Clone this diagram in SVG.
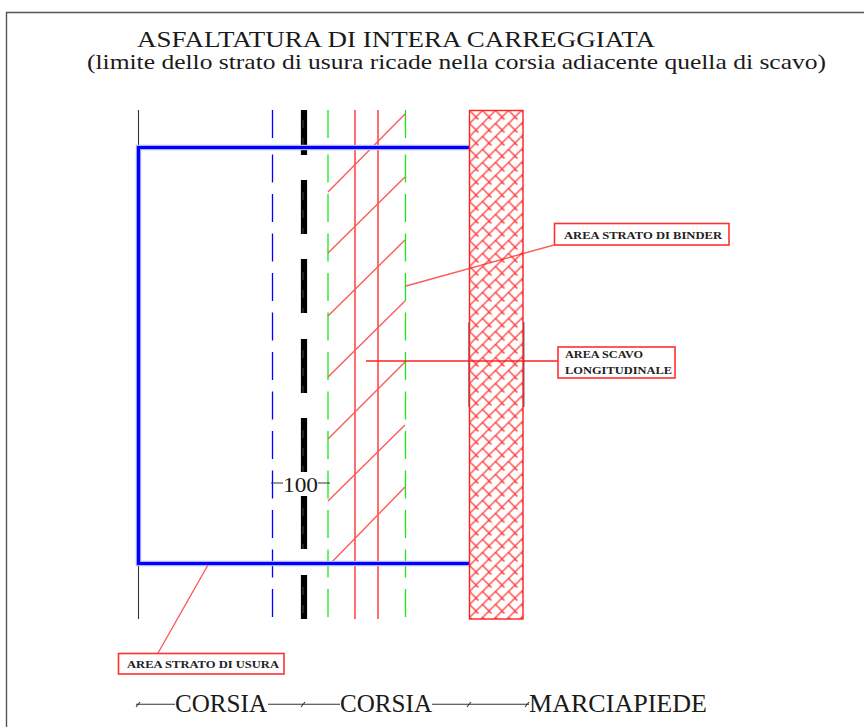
<svg xmlns="http://www.w3.org/2000/svg" width="864" height="727" viewBox="0 0 864 727">
<style>
text{font-family:"Liberation Serif","Times New Roman",serif;fill:#1a1a1a}
.t{font-size:23.5px}.s{font-size:22px}.b{font-size:25px}.n{font-size:21px}
.l{font-size:10px;font-weight:bold;fill:#222}
.v{fill:none;stroke-width:1.3}
.rl{stroke:#ff2020;stroke-width:1.3;fill:none}
.dg{stroke:#ff5a5a;stroke-width:1.4;fill:none}
.dd{stroke-dasharray:28 11.5}
.box{fill:#fff;stroke:#ff3030;stroke-width:1.6}
.k{stroke:#333;stroke-width:1.1;fill:none}
</style>
<defs>
<pattern id="h" width="13" height="13" patternUnits="userSpaceOnUse" x="469.5" y="110.5">
<path d="M-2 15L15-2M-2 2L15-15M-2 28L15 11M-1-1L9 9M12 -1L14 1M-1 12L1 14" stroke="#ff1c1c" stroke-width="1.2" fill="none"/>
</pattern>
</defs>
<rect width="864" height="727" fill="#fff"/>
<path id="frame" d="M864 12.5H6.5V727" fill="none" stroke="#555" stroke-width="1.4"/>
<g id="titles">
<text class="t" x="137" y="46.5" textLength="518" lengthAdjust="spacingAndGlyphs">ASFALTATURA DI INTERA CARREGGIATA</text>
<text class="s" x="87" y="69" textLength="739" lengthAdjust="spacingAndGlyphs">(limite dello strato di usura ricade nella corsia adiacente quella di scavo)</text>
</g>
<g id="connectors">
<path class="k" d="M138.5 110V147M138.5 563V619"/>
<path class="v dd" stroke="#0000ff" d="M272.5 110V141M272.5 154.5V619"/>
<path class="v dd" stroke="#18e818" d="M328 110V141M328 154.5V619M405.5 110V141M405.5 154.5V619"/>
<path class="rl" d="M355 110V619M378 110V619"/>
<path class="dg" d="M328 192L405 114M328 253L405 177M328 316L405 240M328 377L405 301M328 439L405 362M328 501L405 425M332 562L405 487"/>
<path stroke="#000" stroke-width="6.2" fill="none" d="M304 110V155M304 180V234M304 259V313M304 339V393M304 418V472M304 496V549M304 575V619"/>
<path stroke="#555" stroke-width="0.8" stroke-dasharray="8 10" fill="none" d="M303 120V155M303 192V234M303 272V313M303 350V393M303 430V472M303 508V549M303 587V619"/>
<path fill="none" stroke="#b0b0ff" stroke-width="5.4" d="M469 147.5H138.5V563.5H469"/>
<path fill="none" stroke="#0000ff" stroke-width="3.2" d="M469 147.5H138.5V563.5H469"/>
<path class="dg" d="M406 286L554 245M208 565L158 653"/>
<path class="rl" d="M366 361H558"/>
<path class="k" d="M271 483H283M318 483H330M136 704.3H175M268 704.3H340M432 704.3H529"/>
<path class="k" d="M136 707L140 702M301 707L305 702M467 707L471 702M525 707L529 702"/>
</g>
<g id="sidewalk">
<path stroke="#444" stroke-width="1.2" fill="none" d="M469 322V407M523.8 322V407"/>
<rect x="469.5" y="110.5" width="53.5" height="508.5" fill="url(#h)" stroke="#ff2020" stroke-width="1.4"/>
</g>
<g id="label-binder"><rect class="box" x="554.5" y="223.500" width="174.500" height="21.500"/><text class="l" x="564" y="239" textLength="158" lengthAdjust="spacingAndGlyphs">AREA STRATO DI BINDER</text></g>
<g id="label-scavo"><rect class="box" x="558" y="347" width="117" height="31"/><text class="l" x="565" y="358" textLength="78" lengthAdjust="spacingAndGlyphs">AREA SCAVO</text><text class="l" x="565" y="374" textLength="107" lengthAdjust="spacingAndGlyphs">LONGITUDINALE</text></g>
<g id="label-usura"><rect class="box" x="118.500" y="653.500" width="165.500" height="20.500"/><text class="l" x="127" y="668" textLength="152" lengthAdjust="spacingAndGlyphs">AREA STRATO DI USURA</text></g>
<g id="dim"><text class="n" x="283" y="491.500" textLength="35" lengthAdjust="spacingAndGlyphs">100</text></g>
<g id="bottom-labels">
<text class="b" x="175" y="712" textLength="92" lengthAdjust="spacingAndGlyphs">CORSIA</text>
<text class="b" x="340" y="712" textLength="92" lengthAdjust="spacingAndGlyphs">CORSIA</text>
<text class="b" x="529" y="712" textLength="178" lengthAdjust="spacingAndGlyphs">MARCIAPIEDE</text>
</g>
</svg>
